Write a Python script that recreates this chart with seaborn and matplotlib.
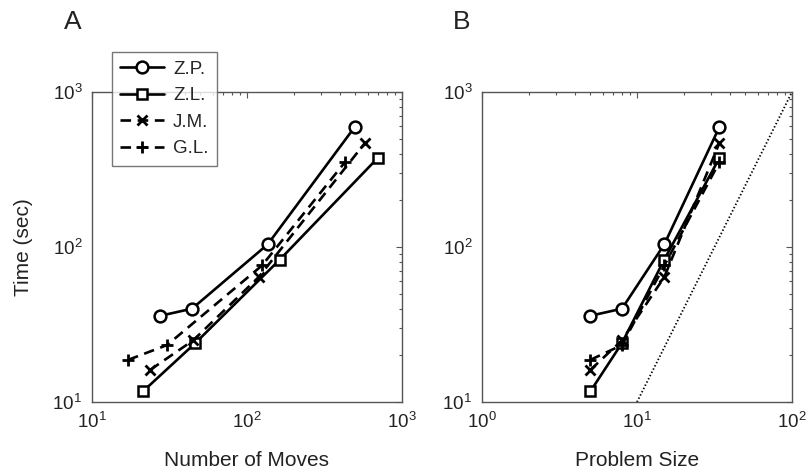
import numpy as np
import matplotlib
matplotlib.use('Agg')
import matplotlib.pyplot as plt
import seaborn as sns
from matplotlib.ticker import LogLocator, NullFormatter

# Values
subjects = ['Z.P.', 'Z.L.', 'J.M.', 'G.L.']
problem_size = [5, 8, 15, 34]
moves_zp = [27.6, 44.2, 136, 495]
moves_zl = [21.3, 46.4, 163, 697]
moves_jm = [23.7, 45, 119, 577]
moves_gl = [17.1, 30.5, 125, 429]
time_zp = [36, 40, 104, 594]
time_zl = [11.7, 24, 83, 375]
time_jm = [16.1, 25, 64, 469]
time_gl = [18.7, 23.3, 76, 353]
ref_size = [10, 100]
ref_time = [10, 1000]

moves = [moves_zp, moves_zl, moves_jm, moves_gl]
times = [time_zp, time_zl, time_jm, time_gl]

sns.set_theme(style='white')
plt.rcParams['font.family'] = ['Liberation Sans', 'DejaVu Sans']
plt.rcParams['mathtext.default'] = 'regular'

styles = [
    dict(linestyle='-', marker='o', markersize=8.5, markeredgewidth=1.8),
    dict(linestyle='-', marker='s', markersize=7, markeredgewidth=1.8),
    dict(linestyle=(0, (4, 2.5)), marker='x', markersize=7, markeredgewidth=2),
    dict(linestyle=(0, (4, 2.5)), marker='+', markersize=9, markeredgewidth=2),
]

fig = plt.figure(figsize=(8.09, 4.72), dpi=100)
axA = fig.add_axes([92 / 809, 1 - 402 / 472, 310 / 809, 310 / 472])
axB = fig.add_axes([482 / 809, 1 - 402 / 472, 310 / 809, 310 / 472])

for name, mv, tm, st in zip(subjects, moves, times, styles):
    sns.lineplot(x=mv, y=tm, ax=axA, color='black', lw=1.9, sort=False,
                 estimator=None, label=name, markerfacecolor='white',
                 markeredgecolor='black', **st)
    sns.lineplot(x=problem_size, y=tm, ax=axB, color='black', lw=1.9,
                 sort=False, estimator=None, markerfacecolor='white',
                 markeredgecolor='black', **st)

# reference slope-2 line
sns.lineplot(x=ref_size, y=ref_time, ax=axB, color='black', lw=1.3,
             linestyle=(0, (0.8, 1.2)), sort=False, estimator=None)

for ax, xlim, xlabel in [(axA, (10, 1000), 'Number of Moves'),
                         (axB, (1, 100), 'Problem Size')]:
    ax.set_xscale('log')
    ax.set_yscale('log')
    ax.set_xlim(*xlim)
    ax.set_ylim(10, 1000)
    ax.xaxis.set_minor_locator(LogLocator(base=10, subs=np.arange(2, 10)))
    ax.yaxis.set_minor_locator(LogLocator(base=10, subs=np.arange(2, 10)))
    ax.xaxis.set_minor_formatter(NullFormatter())
    ax.yaxis.set_minor_formatter(NullFormatter())
    ax.tick_params(which='both', direction='in', top=True, right=True,
                   color='#555555', labelsize=13.5, labelcolor='#222222')
    ax.tick_params(which='major', length=4, width=0.8, pad=7)
    ax.tick_params(which='minor', length=2.5, width=0.8)
    for sp in ax.spines.values():
        sp.set_color('#555555')
        sp.set_linewidth(1)
        sp.set_visible(True)
    ax.set_xlabel(xlabel, fontsize=15, color='#222222', labelpad=14)
    if ax.get_legend() is not None:
        ax.get_legend().remove()

axA.set_ylabel('Time (sec)', fontsize=15, color='#222222', labelpad=14)
axB.set_ylabel('')

handles, labels = axA.get_legend_handles_labels()
leg = axA.legend(handles, labels, loc='upper left',
                 bbox_to_anchor=(20 / 310, 1 + 40 / 310),
                 borderaxespad=0, fontsize=13.5, handlelength=2.3,
                 handletextpad=0.5, labelspacing=0.5, borderpad=0.45,
                 frameon=True, fancybox=False)
leg.get_frame().set_edgecolor('#555555')
leg.get_frame().set_linewidth(1)
leg.set_clip_on(False)

fig.text(73 / 809, 1 - 22 / 472, 'A', fontsize=19, ha='center', va='center',
         color='#222222')
fig.text(462 / 809, 1 - 22 / 472, 'B', fontsize=19, ha='center', va='center',
         color='#222222')

fig.savefig('out.png', dpi=100, facecolor='white')
